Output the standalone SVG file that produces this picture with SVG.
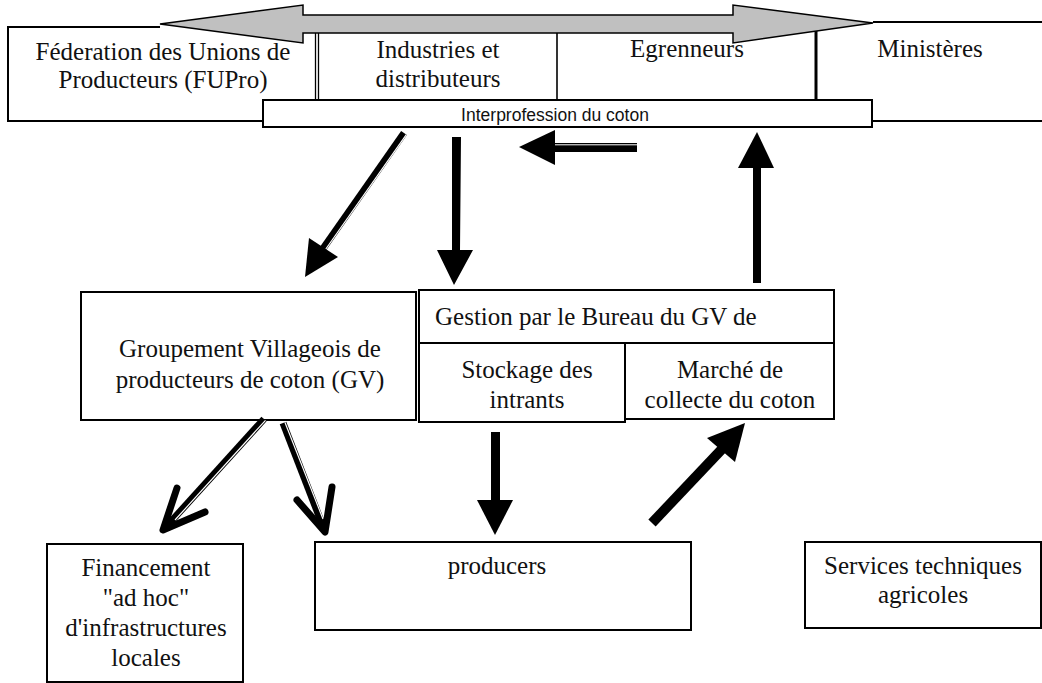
<svg xmlns="http://www.w3.org/2000/svg" width="1042" height="683" viewBox="0 0 1042 683">
<style>
.box{fill:#fff;stroke:#000;stroke-width:2}
.ln{fill:none;stroke:#000;stroke-width:2}
.t{font-family:"Liberation Serif","Times New Roman",serif;font-size:25px;fill:#111;text-anchor:middle}
.tl{font-family:"Liberation Serif","Times New Roman",serif;font-size:25px;fill:#111;text-anchor:start}
.s{font-family:"Liberation Sans",Arial,sans-serif;font-size:17.5px;fill:#111;text-anchor:middle}
.blk{fill:#000;stroke:none}
.dbl{stroke:#000;stroke-width:7;fill:none}
.wht{stroke:#fff;stroke-width:1.2;fill:none}
.chev{stroke:#000;stroke-width:7;fill:none;stroke-linecap:round;stroke-linejoin:round}
</style>
<rect width="1042" height="683" fill="#fff"/>
<g id="top-frame">
<polyline class="ln" points="160,27 8,27 8,121 263,121"/>
<polyline class="ln" points="873,22 1042,22"/>
<polyline class="ln" points="872,121 1042,121"/>
<line x1="315.5" y1="33" x2="315.5" y2="100" stroke="#000" stroke-width="1.3"/>
<line x1="318.5" y1="33" x2="318.5" y2="100" stroke="#000" stroke-width="1.3"/>
<line x1="557" y1="33" x2="557" y2="100" stroke="#000" stroke-width="1.6"/>
<line x1="816" y1="30" x2="816" y2="100" stroke="#000" stroke-width="3"/>
</g>
<g id="fupro">
<text class="t" x="163" y="60">Féderation des Unions de</text>
<text class="t" x="163" y="88">Producteurs  (FUPro)</text>
</g>
<g id="industries">
<text class="t" x="438" y="58">Industries et</text>
<text class="t" x="438" y="87">distributeurs</text>
</g>
<g id="egrenneurs">
<text class="t" x="687" y="57">Egrenneurs</text>
</g>
<g id="ministeres">
<text class="t" x="930" y="57">Ministères</text>
</g>
<g id="double-arrow">
<polygon points="160,24 303,5 303,15 733,15 733,5 873,23 733,43 733,33 303,33 303,43" fill="#c0c0c0" stroke="#000" stroke-width="1.5" stroke-linejoin="miter"/>
</g>
<g id="interprofession">
<rect class="box" x="263" y="100" width="609" height="27"/>
<text class="s" x="555" y="121">Interprofession du coton</text>
</g>
<g id="gv">
<rect class="box" x="81" y="292" width="335" height="128"/>
<text class="t" x="250" y="357">Groupement Villageois de</text>
<text class="t" x="250" y="388">producteurs de coton (GV)</text>
</g>
<g id="gestion">
<rect class="box" x="419" y="290" width="415" height="53" stroke-width="2.5"/>
<text class="tl" x="435" y="325">Gestion par le Bureau du GV de</text>
</g>
<g id="stockage">
<rect class="box" x="419" y="343" width="206" height="79"/>
<text class="t" x="527" y="378">Stockage des</text>
<text class="t" x="527" y="408">intrants</text>
</g>
<g id="marche">
<rect class="box" x="625" y="343" width="209" height="76"/>
<text class="t" x="730" y="378">Marché de</text>
<text class="t" x="730" y="408">collecte du coton</text>
</g>
<g id="financement">
<rect class="box" x="47" y="544" width="196" height="138"/>
<text class="t" x="146" y="576">Financement</text>
<text class="t" x="146" y="606">"ad hoc"</text>
<text class="t" x="146" y="636">d'infrastructures</text>
<text class="t" x="146" y="666">locales</text>
</g>
<g id="producers">
<rect class="box" x="315" y="542" width="376" height="88"/>
<text class="t" x="497" y="574">producers</text>
</g>
<g id="services">
<rect class="box" x="805" y="542" width="236" height="86"/>
<text class="t" x="923" y="574">Services techniques</text>
<text class="t" x="923" y="603">agricoles</text>
</g>
<g id="connectors">
<line class="dbl" x1="404" y1="133" x2="322" y2="250" stroke-width="8"/>
<line class="wht" x1="406.3" y1="134.6" x2="325.5" y2="249.5"/>
<polygon class="blk" points="305,277 309,238 338,257"/>
<polygon class="blk" points="452,137 461,137 460,250 473,250 454,285 437,250 452,250"/>
<rect class="blk" x="553" y="143" width="84" height="9"/>
<line x1="553" y1="144.8" x2="637" y2="144.8" stroke="#fff" stroke-width="1"/>
<polygon class="blk" points="519,147 555,130 555,165"/>
<rect class="blk" x="753" y="166" width="8" height="117"/>
<polygon class="blk" points="738,168 774,168 757,132"/>
<rect class="blk" x="491" y="432" width="9" height="70"/>
<polygon class="blk" points="477,500 513,500 495,535"/>
<line x1="652" y1="523" x2="723" y2="448" stroke="#000" stroke-width="10"/>
<polygon class="blk" points="745,423 707,438 735,462"/>
<line class="dbl" x1="264" y1="419" x2="166" y2="527"/>
<line class="wht" x1="265.5" y1="420.3" x2="175" y2="520"/>
<polyline class="chev" points="177,488 163,530 205,512"/>
<line class="dbl" x1="283" y1="423" x2="324" y2="529"/>
<line class="wht" x1="284.9" y1="422.3" x2="323" y2="519"/>
<polyline class="chev" points="297,500 325,532 332,487"/>
</g>
</svg>
